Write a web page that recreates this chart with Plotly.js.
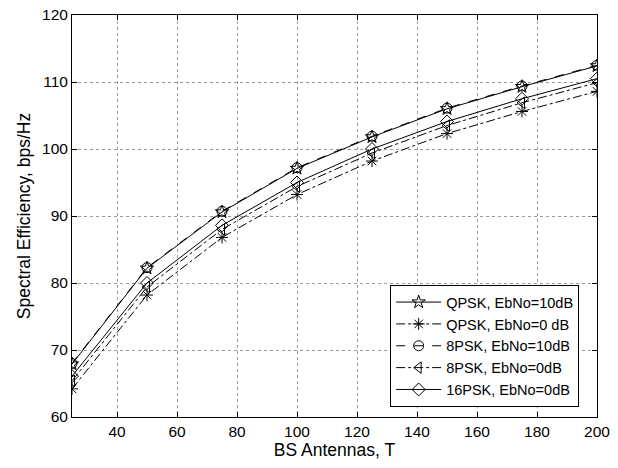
<!DOCTYPE html>
<html>
<head>
<meta charset="utf-8">
<script src="https://cdn.plot.ly/plotly-3.0.1.min.js"></script>
<style>html,body{margin:0;padding:0;background:#fff;}#chart{width:618px;height:468px;}</style>
</head>
<body>
<div id="chart"></div>
<script>
const antennas = [25, 50, 75, 100, 125, 150, 175, 200];
const qpsk10 = [67.9, 82.2, 90.6, 97.1, 101.8, 106.0, 109.3, 112.4];
const qpsk0 = [64.2, 78.2, 86.8, 93.2, 98.2, 102.3, 105.6, 108.6];
const psk8_10 = [68.0, 82.3, 90.7, 97.2, 101.9, 106.1, 109.4, 112.5];
const psk8_0 = [65.4, 79.4, 88.0, 94.4, 99.4, 103.5, 106.9, 109.9];
const psk16_0 = [66.1, 80.0, 88.6, 95.0, 100.0, 104.1, 107.5, 110.5];
const names = ['QPSK, EbNo=10dB', 'QPSK, EbNo=0 dB', '8PSK, EbNo=10dB', '8PSK, EbNo=0dB', '16PSK, EbNo=0dB'];

const series = [qpsk10, qpsk0, psk8_10, psk8_0, psk16_0];
const dashes = ['solid', 'dashdot', 'dash', 'dashdot', 'solid'];
const symbols = ['star-open', 'asterisk-open', 'circle-open', 'triangle-left-open', 'diamond-open'];

const traces = series.map((ys, i) => ({
  x: antennas, y: ys, name: names[i], type: 'scatter', mode: 'lines+markers',
  line: {color: '#000', width: 1, dash: dashes[i]},
  marker: {symbol: symbols[i], size: 10, color: '#000', line: {color: '#000', width: 1}}
}));

const fam = 'Liberation Sans, Arial, sans-serif';
const tickFont = {family: fam, size: 15.5, color: '#000'};
const titleFont = {family: fam, size: 17.5, color: '#000'};
const axisCommon = {
  showline: true, linecolor: '#000', linewidth: 1, mirror: 'ticks',
  ticks: 'inside', ticklen: 5, tickcolor: '#000',
  showgrid: true, gridcolor: '#9a9a9a', griddash: 'dot', gridwidth: 1,
  zeroline: false, tickfont: tickFont
};
const layout = {
  width: 618, height: 468,
  margin: {l: 72, r: 21, t: 15, b: 51},
  paper_bgcolor: '#fff', plot_bgcolor: '#fff',
  font: tickFont,
  xaxis: Object.assign({}, axisCommon, {
    range: [25, 200], tickvals: [40, 60, 80, 100, 120, 140, 160, 180, 200],
    title: {text: 'BS Antennas, T', font: titleFont, standoff: 2}
  }),
  yaxis: Object.assign({}, axisCommon, {
    range: [60, 120], tickvals: [60, 70, 80, 90, 100, 110, 120],
    title: {text: 'Spectral Efficiency, bps/Hz', font: titleFont, standoff: 6}
  }),
  legend: {
    x: 0.966, xanchor: 'right', y: 0.328, yanchor: 'top',
    bgcolor: '#fff', bordercolor: '#000', borderwidth: 1,
    font: {family: fam, size: 14.5, color: '#000'},
    tracegroupgap: 0, itemwidth: 45
  },
  showlegend: true
};
Plotly.newPlot('chart', traces, layout, {displayModeBar: false, staticPlot: true});
</script>
</body>
</html>
